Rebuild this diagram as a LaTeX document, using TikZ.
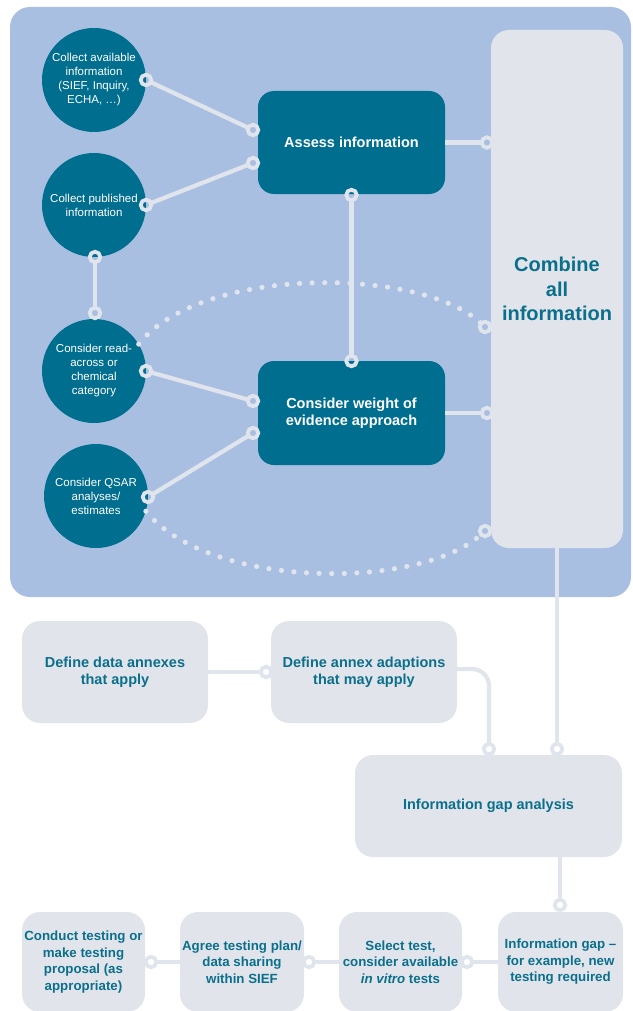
\documentclass[tikz,border=0pt]{standalone}
\usepackage{fontspec}
\setmainfont{Liberation Sans}
\begin{document}
\begin{tikzpicture}[x=1pt,y=-1pt,
  panelblue/.style={fill={rgb,255:red,169;green,191;blue,225}},
  tealbox/.style={rectangle, rounded corners=16pt, fill={rgb,255:red,0;green,110;blue,142}, text=white, align=center, inner sep=0pt},
  tealcirc/.style={circle, fill={rgb,255:red,0;green,110;blue,142}, text=white, align=center, minimum size=104pt, inner sep=0pt,
    font=\fontsize{11.5}{14}\selectfont},
  greybox/.style={rectangle, rounded corners=18pt, fill={rgb,255:red,225;green,229;blue,235},
    text={rgb,255:red,11;green,111;blue,140}, align=center, inner sep=0pt},
  conn/.style={draw={rgb,255:red,224;green,228;blue,236}, line width=4.2pt},
  ring/.style={circle, draw={rgb,255:red,224;green,228;blue,236}, line width=3.8pt, minimum size=10.5pt, inner sep=0pt, outer sep=0pt},
  dotline/.style={draw={rgb,255:red,224;green,228;blue,236}, line width=5.2pt, line cap=round, dash pattern=on 0pt off 12.6pt},
  boldtext/.style={font=\fontsize{14.5}{17}\bfseries\selectfont},
  smallbold/.style={font=\fontsize{13.3}{16.5}\bfseries\selectfont}
]
\useasboundingbox (0,0) rectangle (632,1011);

% shaded panel behind the information-gathering stage
\fill[panelblue, rounded corners=20pt] (10,7) rectangle (631,597);

% sources of information
\node[tealcirc] (c1) at (94,80) {Collect available\\information\\(SIEF, Inquiry,\\ECHA, \dots)};
\node[tealcirc] (c2) at (94,205) {Collect published\\information};
\node[tealcirc] (c3) at (94,371) {Consider read-\\across or\\chemical\\category};
\node[tealcirc] (c4) at (96,496) {Consider QSAR\\analyses/\\estimates};

% evaluation steps
\node[tealbox, boldtext, minimum width=187pt, minimum height=103pt] (assess) at (351.5,142.5) {Assess information};
\node[tealbox, boldtext, minimum width=187pt, minimum height=104pt] (weight) at (351.5,413) {Consider weight of\\evidence approach};

\node[greybox, minimum width=132pt, minimum height=518pt, font=\fontsize{20}{24.5}\bfseries\selectfont] (combine) at (557,289) {Combine\\all\\information};

% lower stages
\node[greybox, boldtext, minimum width=186pt, minimum height=102pt] (annex) at (115,672) {Define data annexes\\that apply};
\node[greybox, boldtext, minimum width=186pt, minimum height=102pt] (adapt) at (364,672) {Define annex adaptions\\that may apply};
\node[greybox, boldtext, minimum width=267pt, minimum height=102pt] (gap) at (488.5,806) {Information gap analysis};

\node[greybox, smallbold, minimum width=123pt, minimum height=100pt] (conduct) at (83.5,962) {Conduct testing or\\make testing\\proposal (as\\appropriate)};
\node[greybox, smallbold, minimum width=124pt, minimum height=100pt] (agree) at (242,962) {Agree testing plan/\\data sharing\\within SIEF};
\node[greybox, smallbold, minimum width=123pt, minimum height=100pt] (select) at (400.5,962) {Select test,\\consider available\\\textit{in vitro} tests};
\node[greybox, smallbold, minimum width=125pt, minimum height=100pt] (need) at (560.5,962) {Information gap --\\for example, new\\testing required};

% connection rings
\node[ring] (r1) at (146,80) {};
\node[ring] (r2) at (146,205) {};
\node[ring] (r2b) at (95,257) {};
\node[ring] (r3t) at (95,313) {};
\node[ring] (r3) at (146,371) {};
\node[ring] (r4) at (148,497) {};
\node[ring] (ra1) at (253,130) {};
\node[ring] (ra2) at (253,163) {};
\node[ring] (rab) at (351.5,195) {};
\node[ring] (rwt) at (351.5,361) {};
\node[ring] (rw1) at (253,401) {};
\node[ring] (rw2) at (253,433) {};
\node[ring] (rc1) at (487,142.5) {};
\node[ring] (rc2) at (485,327) {};
\node[ring] (rc3) at (487,413) {};
\node[ring] (rc4) at (485,531) {};
\node[ring] (rd) at (266,672) {};
\node[ring] (rg1) at (489,749) {};
\node[ring] (rg2) at (557,749) {};
\node[ring] (rn) at (560,905) {};
\node[ring] (rb1) at (151,962) {};
\node[ring] (rb2) at (309,962) {};
\node[ring] (rb3) at (467,962) {};

% connectors
\draw[conn] (r1) -- (ra1);
\draw[conn] (r2) -- (ra2);
\draw[conn] (r2b) -- (r3t);
\draw[conn] (r3) -- (rw1);
\draw[conn] (r4) -- (rw2);
\draw[conn] (rab) -- (rwt);
\draw[conn] (assess.east) -- (rc1);
\draw[conn] (weight.east) -- (rc3);
\draw[dotline] (c3.31) .. controls (200,266) and (420,266) .. (rc2);
\draw[dotline] (c4.-17) .. controls (210,590) and (420,590) .. (rc4);

\draw[conn] (combine.south) -- (rg2);
\draw[conn] (annex.east) -- (rd);
\draw[conn, rounded corners=17pt] (adapt.east |- 0,669) -| (rg1);
\draw[conn] (rn |- gap.south) -- (rn);
\draw[conn] (need.west) -- (rb3);
\draw[conn] (select.west) -- (rb2);
\draw[conn] (agree.west) -- (rb1);
\end{tikzpicture}
\end{document}
